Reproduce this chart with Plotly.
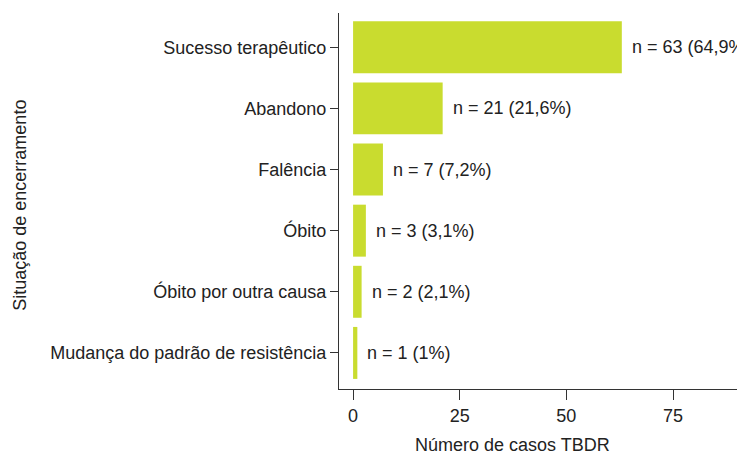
import plotly.graph_objects as go

categories = [
    "Sucesso terapêutico",
    "Abandono",
    "Falência",
    "Óbito",
    "Óbito por outra causa",
    "Mudança do padrão de resistência",
]
counts = [63, 21, 7, 3, 2, 1]
labels = [
    "n = 63 (64,9%)",
    "n = 21 (21,6%)",
    "n = 7 (7,2%)",
    "n = 3 (3,1%)",
    "n = 2 (2,1%)",
    "n = 1 (1%)",
]
x_ticks = [0, 25, 50, 75]

FONT = "Liberation Sans, Arial, sans-serif"
FS = 18
TXT = "#222222"
BAR = "#c9dc2f"
AX = "#333333"

fig = go.Figure()
fig.add_trace(go.Bar(
    x=counts, y=categories, orientation="h",
    marker=dict(color=BAR, line=dict(width=0)),
    width=0.85, hoverinfo="skip",
))

for c, v, t in zip(categories, counts, labels):
    fig.add_annotation(x=v, y=c, text=t, showarrow=False, xanchor="left",
                       yanchor="middle", xshift=8,
                       font=dict(family=FONT, size=FS, color=TXT))

fig.add_annotation(xref="paper", yref="paper", x=0.437, y=-0.149,
                   text="Número de casos TBDR", showarrow=False,
                   xanchor="center", yanchor="middle",
                   font=dict(family=FONT, size=FS, color=TXT))
fig.add_annotation(xref="paper", yref="paper", x=-0.800, y=0.489,
                   text="Situação de encerramento", showarrow=False,
                   textangle=-90, xanchor="center", yanchor="middle",
                   font=dict(family=FONT, size=FS, color=TXT))

n = len(categories)
fig.update_layout(
    width=737, height=454,
    margin=dict(l=339, r=0, t=13, b=65),
    plot_bgcolor="white", paper_bgcolor="white",
    showlegend=False,
    font=dict(family=FONT, size=FS, color=TXT),
    xaxis=dict(range=[-3.3, 90], tickvals=x_ticks, showgrid=False,
               zeroline=False, showline=True, linecolor=AX, linewidth=1,
               ticks="outside", ticklen=10, tickcolor=AX,
               tickfont=dict(family=FONT, size=FS, color=TXT)),
    yaxis=dict(categoryorder="array", categoryarray=categories,
               range=[n - 1 + 0.59, -0.56], showgrid=False, zeroline=False,
               showline=True, linecolor=AX, linewidth=1,
               ticks="outside", ticklen=8, tickcolor=AX,
               tickfont=dict(family=FONT, size=FS, color=TXT)),
)

fig.write_html("out.html", config={"displayModeBar": False},
               post_script="document.body.style.margin='0';document.body.style.overflow='hidden';")
